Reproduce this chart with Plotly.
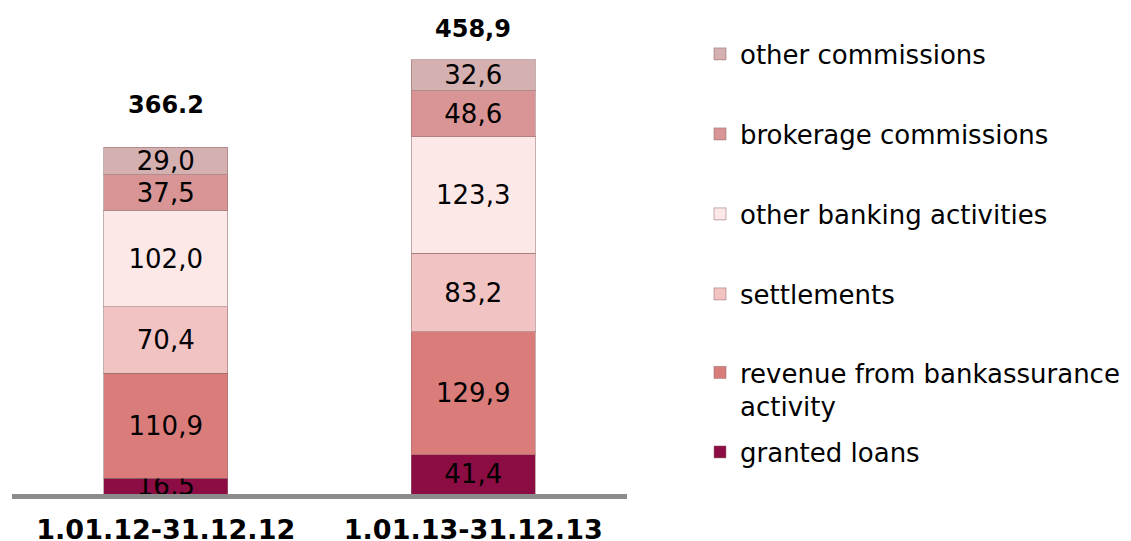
import plotly.graph_objects as go

categories = ["1.01.12-31.12.12", "1.01.13-31.12.13"]
series_names = [
    "granted loans",
    "revenue from bankassurance<br>activity",
    "settlements",
    "other banking activities",
    "brokerage commissions",
    "other commissions",
]
granted_loans = [16.5, 41.4]
bankassurance = [110.9, 129.9]
settlements = [70.4, 83.2]
other_banking = [102.0, 123.3]
brokerage = [37.5, 48.6]
other_commissions = [29.0, 32.6]
totals = [366.2, 458.9]
total_labels = ["366.2", "458,9"]

series_values = [granted_loans, bankassurance, settlements, other_banking, brokerage, other_commissions]
colors = ["#8c0c44", "#d97c7a", "#f2c3c3", "#fde8e8", "#d99595", "#d5b0b0"]

# the page body has an 8px margin, so the figure is drawn 8px in from the window edge
OFF = 8
W, H = 1131 - OFF, 541 - OFF
# page-pixel targets for the plot area
PL, PR, PT, PB = 12, 627, 20, 494
ML, MR, MT, MB = PL - OFF, W - (PR - OFF), PT - OFF, H - (PB - OFF)
plot_h = H - MT - MB
plot_w = W - ML - MR

FONT = "DejaVu Sans, Verdana, sans-serif"

fig = go.Figure()

# legend centre rows (page pixels) for each series
legend_rows = [452, 389.5, 294, 214, 134, 54]

for i, (name, vals, col) in enumerate(zip(series_names, series_values, colors)):
    lg = "legend" if i == 0 else f"legend{i+1}"
    fig.add_trace(go.Bar(
        x=categories,
        y=vals,
        name=name,
        marker=dict(color=col, line=dict(color="rgba(150,110,110,0.55)", width=1)),
        text=[f"{v:.1f}".replace(".", ",") for v in vals],
        textposition="inside",
        insidetextanchor="middle",
        textangle=0,
        textfont=dict(family=FONT, size=26, color="black"),
        legend=lg,
        showlegend=True,
        hoverinfo="x+y+name",
    ))

fig.update_layout(
    barmode="stack",
    bargap=0.597,
    width=W, height=H,
    showlegend=True,
    margin=dict(l=ML, r=MR, t=MT, b=MB, autoexpand=False),
    plot_bgcolor="white",
    paper_bgcolor="white",
    uniformtext=dict(minsize=26, mode="show"),
    font=dict(family=FONT, color="black"),
    xaxis=dict(
        showline=True, linecolor="#8c8c8c", linewidth=5,
        showgrid=False, zeroline=False, ticks="",
        ticklabelstandoff=8,
        tickfont=dict(family=FONT, size=27, color="black", weight="bold"),
        range=[-0.5, 1.5],
    ),
    yaxis=dict(
        range=[0, 501], visible=False, showgrid=False, zeroline=False,
    ),
)

legend_px_x = 700  # page pixel of legend box left edge
for i in range(len(series_names)):
    key = "legend" if i == 0 else f"legend{i+1}"
    ypaper = (PB - legend_rows[i]) / plot_h
    fig.update_layout({key: dict(
        visible=True,
        x=(legend_px_x - PL) / plot_w,
        xanchor="left",
        y=ypaper,
        yanchor="middle",
        valign="top",
        bgcolor="rgba(0,0,0,0)",
        borderwidth=0,
        font=dict(family=FONT, size=26, color="black"),
        traceorder="normal",
    )})

total_shifts = [43, 31]
for cat, tot, lab, sh in zip(categories, totals, total_labels, total_shifts):
    fig.add_annotation(
        x=cat, y=tot, text=f"<b>{lab}</b>", showarrow=False,
        yanchor="middle", yshift=sh,
        font=dict(family=FONT, size=24, color="black"),
    )

fig.write_html("out.html")
